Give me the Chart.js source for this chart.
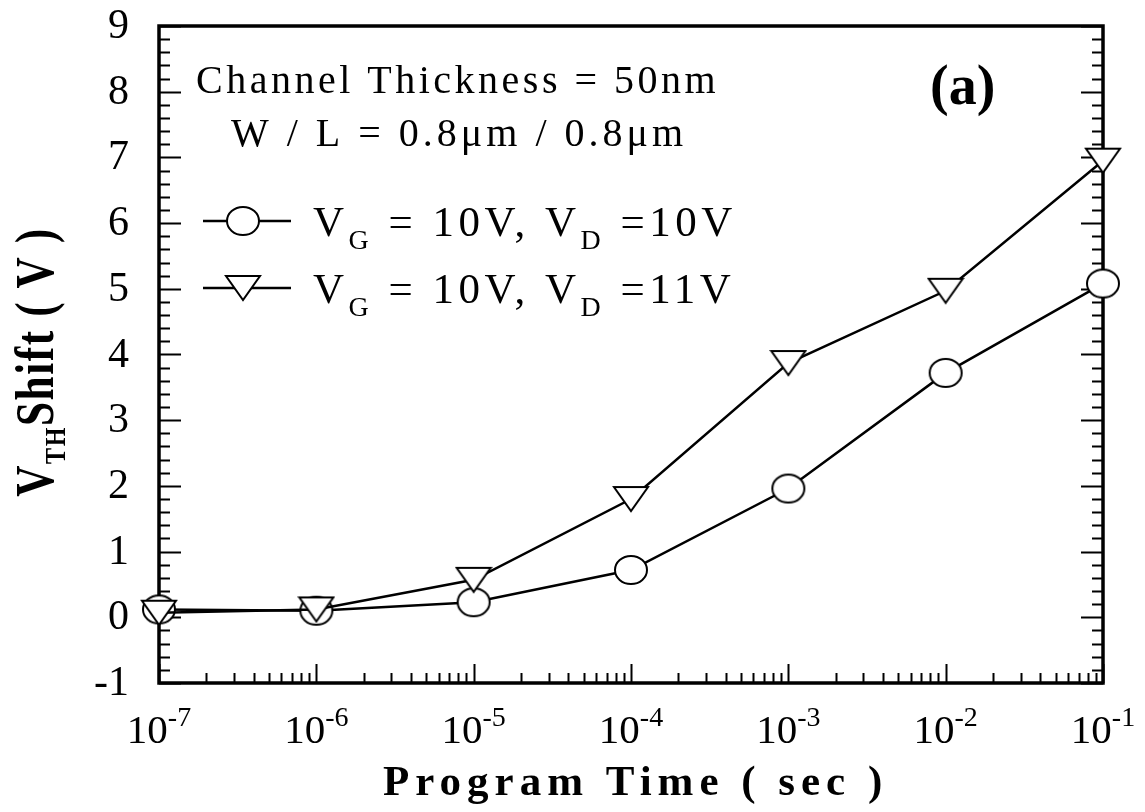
<!DOCTYPE html>
<html>
<head>
<meta charset="utf-8">
<script src="https://cdn.jsdelivr.net/npm/chart.js@4.4.1/dist/chart.umd.min.js"></script>
<style>
  body { margin: 0; background: #fff; }
  canvas { display: block; }
</style>
</head>
<body>
<canvas id="vth" width="1145" height="812"></canvas>
<script>
// program time (s) and threshold voltage shift (V)
const programTime = [1e-7, 1e-6, 1e-5, 1e-4, 1e-3, 1e-2, 1e-1];
const shiftVd10 = [0.12, 0.1, 0.23, 0.72, 1.96, 3.72, 5.08];
const shiftVd11 = [0.07, 0.12, 0.57, 1.8, 3.87, 4.97, 6.95];

const xDecades = [-7, -6, -5, -4, -3, -2, -1];
const yTicks = [-1, 0, 1, 2, 3, 4, 5, 6, 7, 8, 9];

const SERIF = "'Liberation Serif', 'DejaVu Serif', serif";

// open markers as small canvases so chart and legend share them
function makeCircle() {
  let c = document.createElement("canvas");
  c.width = 36; c.height = 32;
  let g = c.getContext("2d");
  g.beginPath();
  g.ellipse(18, 16, 16, 14, 0, 0, Math.PI * 2);
  g.fillStyle = "#fff";
  g.fill();
  g.lineWidth = 2;
  g.strokeStyle = "#000";
  g.stroke();
  return c;
}
function makeTriangle() {
  let c = document.createElement("canvas");
  c.width = 38; c.height = 28;
  let g = c.getContext("2d");
  g.beginPath();
  g.moveTo(2, 2);
  g.lineTo(36, 2);
  g.lineTo(19, 26);
  g.closePath();
  g.fillStyle = "#fff";
  g.fill();
  g.lineWidth = 2;
  g.lineJoin = "miter";
  g.strokeStyle = "#000";
  g.stroke();
  return c;
}
const circleMark = makeCircle();
const triangleMark = makeTriangle();

// draws pieces of text one after another: [text, font, dy]
function drawRuns(ctx, x, y, runs, spacing) {
  ctx.save();
  ctx.letterSpacing = (spacing || 0) + "px";
  ctx.textAlign = "left";
  ctx.textBaseline = "alphabetic";
  for (let r of runs) {
    ctx.font = r[1];
    ctx.fillText(r[0], x, y + (r[2] || 0));
    x += ctx.measureText(r[0]).width;
  }
  ctx.restore();
  return x;
}
function runsWidth(ctx, runs, spacing) {
  ctx.save();
  ctx.letterSpacing = (spacing || 0) + "px";
  let w = 0;
  for (let r of runs) {
    ctx.font = r[1];
    w += ctx.measureText(r[0]).width;
  }
  ctx.restore();
  return w;
}

// frame with inward ticks on left, right and bottom
const framePlugin = {
  id: "frame",
  beforeDatasetsDraw(chart) {
    let ctx = chart.ctx;
    let a = chart.chartArea;
    let x = chart.scales.x;
    let y = chart.scales.y;
    ctx.save();
    ctx.strokeStyle = "#000";
    ctx.lineWidth = 2;
    ctx.beginPath();
    for (let v = -1; v <= 9.001; v += 0.2) {
      let py = Math.round(y.getPixelForValue(v)) + 0.5;
      let major = Math.abs(v - Math.round(v)) < 0.01;
      let len = major ? 22 : 11;
      ctx.moveTo(a.left, py);
      ctx.lineTo(a.left + len, py);
      ctx.moveTo(a.right, py);
      ctx.lineTo(a.right - len, py);
    }
    for (let d of xDecades) {
      for (let m = 1; m <= 9; m++) {
        let val = m * Math.pow(10, d);
        if (val > 0.1000001) break;
        let px = Math.round(x.getPixelForValue(val)) + 0.5;
        let len = m == 1 ? 19 : 10;
        ctx.moveTo(px, a.bottom);
        ctx.lineTo(px, a.bottom - len);
      }
    }
    ctx.stroke();
    ctx.lineWidth = 3.5;
    ctx.strokeRect(a.left, a.top, a.right - a.left, a.bottom - a.top);
    ctx.restore();
  },
  afterDraw(chart) {
    let ctx = chart.ctx;
    let a = chart.chartArea;
    let x = chart.scales.x;
    let y = chart.scales.y;
    ctx.save();
    ctx.fillStyle = "#000";

    // y tick labels
    ctx.font = "42px " + SERIF;
    ctx.textAlign = "right";
    ctx.textBaseline = "middle";
    for (let t of yTicks) {
      ctx.fillText(String(t), 129, y.getPixelForValue(t) + 1);
    }

    // x tick labels 10^n
    for (let d of xDecades) {
      let runs = [["10", "41px " + SERIF, 0], [String(d), "28px " + SERIF, -17]];
      let w = runsWidth(ctx, runs, 0);
      let px = x.getPixelForValue(Math.pow(10, d));
      drawRuns(ctx, px - w / 2, 743, runs, 0);
    }

    // axis titles
    drawRuns(ctx, 383, 795, [["Program Time ( sec )", "bold 43px " + SERIF, 0]], 6);

    ctx.save();
    ctx.translate(53, 362);
    ctx.rotate(-Math.PI / 2);
    ctx.scale(0.8, 1);
    let yt = [
      ["V", "bold 54px " + SERIF, 0],
      ["TH", "bold 30px " + SERIF, 12],
      ["Shift ( V )", "bold 54px " + SERIF, 0],
    ];
    let yw = runsWidth(ctx, yt, 2);
    drawRuns(ctx, -yw / 2, 0, yt, 2);
    ctx.restore();

    // notes
    drawRuns(ctx, 196, 93, [["Channel Thickness = 50nm", "40px " + SERIF, 0]], 3.5);
    drawRuns(ctx, 231, 146, [["W / L = 0.8\u03bcm / 0.8\u03bcm", "40px " + SERIF, 0]], 4);
    drawRuns(ctx, 930, 104, [["(a)", "bold 56px " + SERIF, 0]], 0);

    // legend
    let rows = [
      [circleMark, 221, "10V"],
      [triangleMark, 288, "11V"],
    ];
    for (let r of rows) {
      ctx.lineWidth = 2.5;
      ctx.strokeStyle = "#000";
      ctx.beginPath();
      ctx.moveTo(203, r[1]);
      ctx.lineTo(291, r[1]);
      ctx.stroke();
      ctx.drawImage(r[0], 243 - r[0].width / 2, r[1] - r[0].height / 2);
      drawRuns(ctx, 313, r[1] + 15, [
        ["V", "43px " + SERIF, 0],
        ["G", "28px " + SERIF, 13],
        [" = 10V, V", "43px " + SERIF, 0],
        ["D", "28px " + SERIF, 13],
        [" =" + r[2], "43px " + SERIF, 0],
      ], 4.5);
    }
    ctx.restore();
  },
};

new Chart(document.getElementById("vth"), {
  type: "scatter",
  data: {
    datasets: [
      {
        label: "VG = 10V, VD =10V",
        data: programTime.map((t, i) => ({ x: t, y: shiftVd10[i] })),
        showLine: true,
        borderColor: "#000",
        borderWidth: 2.5,
        pointStyle: circleMark,
        clip: false,
        order: 1,
      },
      {
        label: "VG = 10V, VD =11V",
        data: programTime.map((t, i) => ({ x: t, y: shiftVd11[i] })),
        showLine: true,
        borderColor: "#000",
        borderWidth: 2.5,
        pointStyle: triangleMark,
        clip: false,
        order: 0,
      },
    ],
  },
  options: {
    responsive: false,
    animation: false,
    events: [],
    layout: { padding: { left: 159, top: 26, right: 42, bottom: 129 } },
    plugins: { legend: { display: false }, tooltip: { enabled: false } },
    scales: {
      x: { type: "logarithmic", min: 1e-7, max: 1e-1, display: false },
      y: { type: "linear", min: -1, max: 9, display: false },
    },
  },
  plugins: [framePlugin],
});
</script>
</body>
</html>
